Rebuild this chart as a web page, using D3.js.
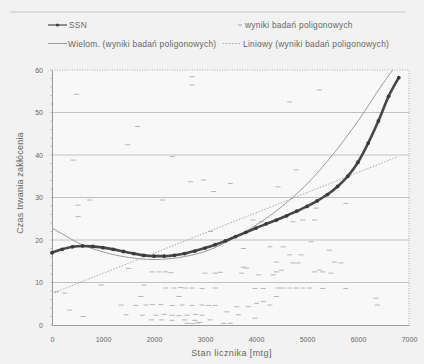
<!DOCTYPE html>
<html>
<head>
<meta charset="utf-8">
<script src="https://cdn.jsdelivr.net/npm/d3@7"></script>
<style>
  html, body { margin: 0; padding: 0; background: #f2f2f2; }
  svg { display: block; }
  text { font-family: "Liberation Sans", Arial, sans-serif; fill: #666; }
</style>
</head>
<body>
<svg id="chart" width="424" height="364"></svg>
<script>
// SSN model output (stan licznika, czas trwania zakłócenia)
const ssnX = [0,200,400,600,800,1000,1200,1400,1600,1800,2000,2200,2400,2600,2800,3000,3200,3400,3600,3800,4000,4200,4400,4600,4800,5000,5200,5400,5600,5800,6000,6200,6400,6600,6800];
const ssnY = [17.0,17.8,18.4,18.6,18.5,18.2,17.8,17.3,16.8,16.4,16.2,16.2,16.4,16.8,17.4,18.1,18.9,19.8,20.8,21.8,22.8,23.8,24.7,25.7,26.8,27.9,29.2,30.7,32.6,35.0,38.3,42.8,48.0,53.8,58.2];

// Polynomial trend of the test results
const polyX = [0,250,500,1000,1500,2000,2500,3000,3500,4000,4500,5000,5500,6000,6500,6680];
const polyY = [22.8,21.1,19.4,17.2,15.9,15.4,15.9,17.3,20.0,23.5,27.8,33.2,40.0,48.0,57.0,60.0];

// Linear trend of the test results
const linX = [0,6780];
const linY = [7.4,39.6];

// Test results (wyniki badań poligonowych)
const testX = [1497,1960,2100,2230,2330,3000,3200,3300,1808,966,2230,2392,2522,2619,2748,2942,3202,1744,2489,
  1355,1647,1841,1970,2133,2359,2553,2748,2942,3072,3202,1452,1776,2036,2197,2359,2489,2650,2813,2942,
  1950,2150,2350,2600,2800,2900,3100,609,350,91,253,2650,2750,2850,
  3753,4272,4531,5081,5438,4661,4886,4401,4725,4822,5536,5665,3753,3817,4401,4498,5146,5244,5308,4044,3720,4336,5470,
  3980,4142,4433,4531,4661,4789,4919,5049,5308,5762,4401,4012,4142,4272,3623,3850,6345,6378,3429,3655,3980,3364,3494,
  2748,2748,480,1678,1484,2359,415,2716,2975,3170,739,2165,512,512,3105,
  5244,4661,4789,3494,4433,5178,5762,4725,4919,5146,3947,4109];
const testY = [13.3,12.5,12.5,12.5,12.3,12.2,12.2,12.4,9.4,9.4,8.7,8.7,8.8,8.7,8.7,8.6,8.7,6.7,6.7,
  4.7,4.6,4.7,4.8,4.8,4.6,4.7,4.6,4.7,4.6,4.6,2.4,2.3,2.3,2.5,2.3,2.2,2.3,2.5,2.3,
  1.2,1.2,1.1,1.2,1.1,0.6,1.2,2.0,3.5,7.8,7.5,0.4,0.3,0.5,
  18.0,18.4,18.4,19.6,17.6,16.5,16.5,14.8,14.6,14.6,14.8,14.6,13.6,13.4,12.5,12.9,12.5,12.9,12.5,11.8,12.2,11.8,12.2,
  8.6,8.6,8.7,8.7,8.7,8.7,8.7,8.7,8.6,8.6,6.7,5.1,5.5,4.7,4.3,4.3,6.3,4.7,3.1,2.4,1.6,0.4,0.4,
  58.4,56.5,54.3,46.7,42.4,39.6,38.8,33.7,34.1,31.4,29.4,29.4,28.2,25.5,22.0,
  55.3,52.5,36.5,33.3,32.5,27.5,28.6,24.3,24.7,24.7,24.7,24.3];

const yTicks = [0,10,20,30,40,50,60];
const xTicks = [0,1000,2000,3000,4000,5000,6000,7000];

const svg = d3.select("#chart");
const x = d3.scaleLinear().domain([0,7000]).range([52,409]);
const y = d3.scaleLinear().domain([0,60]).range([325,70]);

// frame line above the legend
svg.append("line").attr("x1",10).attr("x2",405).attr("y1",12).attr("y2",12)
  .attr("stroke","#c4c4c4").attr("stroke-width",1);

// plot area
svg.append("rect").attr("x",x(0)).attr("y",y(60)).attr("width",x(7000)-x(0)).attr("height",y(0)-y(60))
  .attr("fill","#f8f8f8");

// gridlines
svg.append("g").selectAll("line").data(yTicks.filter(d => d > 0 && d < 60)).join("line")
  .attr("x1",x(0)).attr("x2",x(7000)).attr("y1",d => y(d)).attr("y2",d => y(d))
  .attr("stroke","#c2c2c2").attr("stroke-width",1);

// dotted top and right borders
svg.append("path").attr("d",`M${x(0)},${y(60)}H${x(7000)}V${y(0)}`)
  .attr("fill","none").attr("stroke","#9a9a9a").attr("stroke-width",0.8).attr("stroke-dasharray","1,1.5");

// axes
const yAxis = d3.axisLeft(y).tickValues(yTicks).tickSize(0).tickPadding(9);
const gy = svg.append("g").attr("transform",`translate(${x(0)},0)`).call(yAxis);
gy.select(".domain").attr("stroke","#9a9a9a");
gy.selectAll("text").style("font-size","7px").attr("fill","#666");
// small minor ticks along the value axis
gy.append("g").selectAll("line").data(d3.range(0,61,2)).join("line")
  .attr("x1",-1.5).attr("x2",0).attr("y1",d => y(d)).attr("y2",d => y(d))
  .attr("stroke","#a0a0a0").attr("stroke-width",0.7);

const xAxis = d3.axisBottom(x).tickValues(xTicks).tickSize(0).tickPadding(12).tickFormat(d3.format("d"));
const gx = svg.append("g").attr("transform",`translate(0,${y(0)})`).call(xAxis);
gx.select(".domain").attr("stroke","#9a9a9a");
gx.selectAll("text").style("font-size","7px").attr("fill","#666");

// axis titles
svg.append("text").attr("x",(x(0)+x(7000))/2+1).attr("y",356).attr("text-anchor","middle")
  .style("font-size","9px").style("letter-spacing","0.4px").text("Stan licznika [mtg]");
svg.append("text").attr("transform","translate(23,183) rotate(-90)").attr("text-anchor","middle")
  .style("font-size","9px").style("letter-spacing","0.2px").text("Czas trwania zakłócenia");

// test result markers
const pts = testX.map((v,i) => [v, testY[i]]);
svg.append("g").selectAll("line").data(pts).join("line")
  .attr("x1",d => x(d[0])-2.5).attr("x2",d => x(d[0])+2.5)
  .attr("y1",d => y(d[1])).attr("y2",d => y(d[1]))
  .attr("stroke","#b4b4b4").attr("stroke-width",1);

// linear trend
const lin = d3.line().x(d => x(d[0])).y(d => y(d[1]));
svg.append("path").datum(linX.map((v,i) => [v, linY[i]])).attr("d",lin)
  .attr("fill","none").attr("stroke","#a8a8a8").attr("stroke-width",1).attr("stroke-dasharray","1.5,1.5");

// polynomial trend
const smooth = d3.line().x(d => x(d[0])).y(d => y(d[1])).curve(d3.curveMonotoneX);
svg.append("path").datum(polyX.map((v,i) => [v, polyY[i]])).attr("d",smooth)
  .attr("fill","none").attr("stroke","#9c9c9c").attr("stroke-width",1);

// SSN
const ssn = ssnX.map((v,i) => [v, ssnY[i]]);
svg.append("path").datum(ssn).attr("d",smooth)
  .attr("fill","none").attr("stroke","#474747").attr("stroke-width",2.6);
svg.append("g").selectAll("circle").data(ssn).join("circle")
  .attr("cx",d => x(d[0])).attr("cy",d => y(d[1])).attr("r",1.9).attr("fill","#3a3a3a");

// legend
const lg = svg.append("g").style("font-size","8.4px").style("letter-spacing","0.25px");
lg.append("line").attr("x1",48).attr("x2",67).attr("y1",25).attr("y2",25).attr("stroke","#4a4a4a").attr("stroke-width",1.2);
lg.append("circle").attr("cx",57.5).attr("cy",25).attr("r",1.6).attr("fill","#3e3e3e");
lg.append("text").attr("x",69).attr("y",28).text("SSN");

lg.append("line").attr("x1",238).attr("x2",242).attr("y1",25).attr("y2",25).attr("stroke","#a0a0a0").attr("stroke-width",1);
lg.append("text").attr("x",245).attr("y",28).text("wyniki badań poligonowych");

lg.append("line").attr("x1",48).attr("x2",67).attr("y1",43.5).attr("y2",43.5).attr("stroke","#9c9c9c").attr("stroke-width",1);
lg.append("text").attr("x",68).attr("y",46.5).text("Wielom. (wyniki badań poligonowych)");

lg.append("line").attr("x1",223).attr("x2",241).attr("y1",43.5).attr("y2",43.5).attr("stroke","#a8a8a8").attr("stroke-width",1).attr("stroke-dasharray","1.5,1.5");
lg.append("text").attr("x",243).attr("y",46.5).text("Liniowy (wyniki badań poligonowych)");
</script>
</body>
</html>
